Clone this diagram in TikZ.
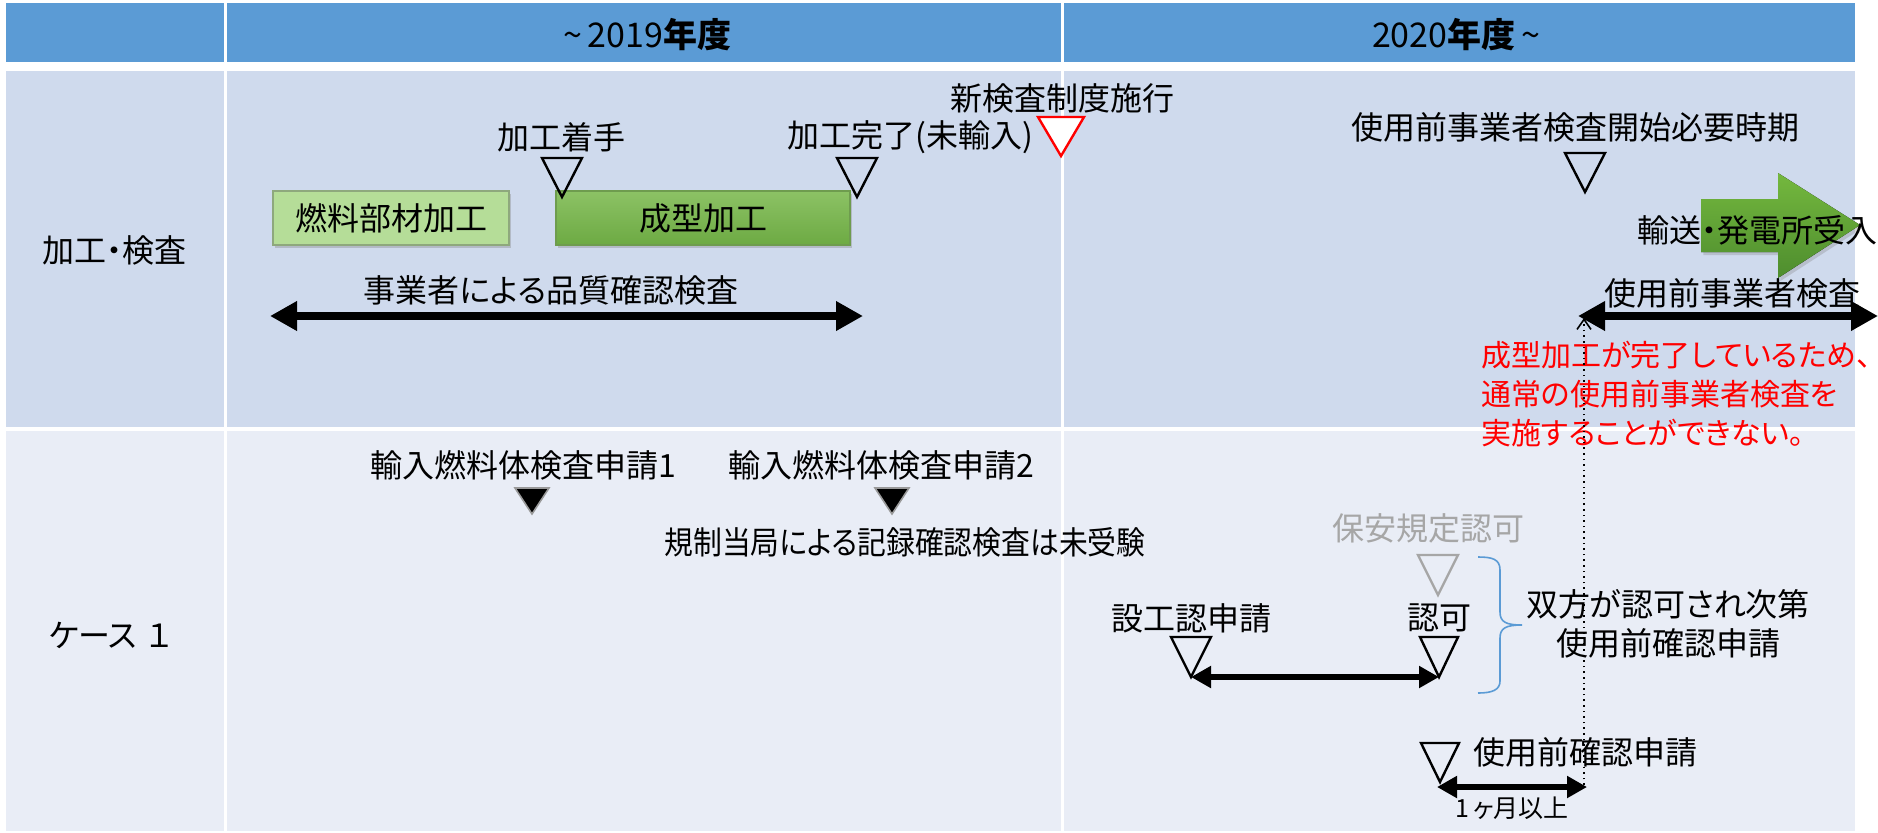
\documentclass[tikz,border=0pt]{standalone}
\usepackage{fontspec}
\usepackage{graphicx}
\newfontfamily\jp[RawFeature={+palt}]{Noto Sans CJK JP}
\usetikzlibrary{arrows.meta,shadows,calc}
\definecolor{hdr}{HTML}{5B9BD5}
\definecolor{rowa}{HTML}{CFDAED}
\definecolor{rowb}{HTML}{E9EDF6}
\definecolor{lgreen}{HTML}{B5DD98}
\definecolor{lgreenb}{HTML}{8EA87D}
\definecolor{dgreenT}{HTML}{8CC265}
\definecolor{dgreenB}{HTML}{6DAA43}
\definecolor{dgreenb}{HTML}{6E9C4E}
\definecolor{arrT}{HTML}{74B83E}
\definecolor{arrB}{HTML}{4E8D2E}
\definecolor{grayt}{HTML}{A6A6A6}
\newcommand\marker[6]{\coordinate (#1) at (#2,#3);
  \draw[#6] ($(#1)+(-#4,-#5)$) -- (#1) -- ($(#1)+(#4,-#5)$) -- cycle;}
\begin{document}
\begin{tikzpicture}[x=0.5pt,y=-0.5pt,
  lbl/.style={font=\jp\fontsize{16}{19.5}\selectfont, inner sep=0pt},
  hdrtxt/.style={font=\jp\fontsize{17}{20}\selectfont, inner sep=0pt},
  tickmark/.style={draw=black, line width=1.2pt, line join=miter},
  filledmark/.style={draw=black!40, fill=black, line width=0.8pt},
  bigarr/.style={line width=4pt, {Triangle[length=13.5pt,width=14pt]}-{Triangle[length=13.5pt,width=14pt]}},
  midarr/.style={line width=3pt, {Triangle[length=10pt,width=10.5pt]}-{Triangle[length=10pt,width=10.5pt]}},
  boxA/.style={lbl, fill=lgreen, draw=lgreenb, line width=0.8pt, minimum width=118pt, minimum height=27pt,
    drop shadow={opacity=0.35, shadow xshift=1.2pt, shadow yshift=-1.5pt}},
  boxB/.style={lbl, top color=dgreenT, bottom color=dgreenB, draw=dgreenb, line width=0.8pt, minimum width=147pt, minimum height=27pt,
    drop shadow={opacity=0.35, shadow xshift=1.2pt, shadow yshift=-1.5pt}}
]
\useasboundingbox (0,0) rectangle (1878,832);
\fill[white] (0,0) rectangle (1878,832);
% table
\fill[hdr] (6,3) rectangle (1855,62);
\fill[rowa] (6,71) rectangle (1855,427);
\fill[rowb] (6,431) rectangle (1855,831);
\draw[white, line width=1.5pt] (225.5,3) -- (225.5,831);
\draw[white, line width=1.5pt] (1062.5,3) -- (1062.5,831);
% headers
\node[hdrtxt] (h1) at (647,35) {\textasciitilde\,2019\textbf{年度}};
\node[hdrtxt] (h2) at (1456,35) {2020\textbf{年度}\,\textasciitilde};
\node[lbl] (r1) at (114,250) {加工・検査};
\node[lbl] (r2) at (110,635) {ケース\hspace{5pt}１};
% row 1
\node[boxA] (b1) at (391,218) {燃料部材加工};
\node[boxB] (b2) at (703,218) {成型加工};
\node[lbl] (t1) at (561,137) {加工着手};
\marker{m1}{562}{197}{20}{39}{tickmark}
\node[lbl] (t2) at (910,137) {加工完了(未輸入)};
\marker{m2}{857}{197}{20}{39}{tickmark}
\node[lbl] (t3) at (1062,98) {新検査制度施行};
\marker{m3}{1061}{156}{23}{39}{tickmark, draw=red, fill=white}
\node[lbl] (t4) at (1575,127) {使用前事業者検査開始必要時期};
\marker{m4}{1585}{192}{20}{39}{tickmark}
% green arrow
\fill[top color=arrT, bottom color=arrB, drop shadow={opacity=0.3, shadow xshift=1.2pt, shadow yshift=-1.5pt}]
  (1701,199) -- (1778,199) -- (1778,173) -- (1860,225) -- (1778,278) -- (1778,252) -- (1701,252) -- cycle;
\node[lbl] (t5) at (1757,230) {輸送・発電所受入};
% QA arrow
\node[lbl] (t6) at (551,290) {事業者による品質確認検査};
\coordinate (qaL) at (270,316);
\coordinate (qaR) at (863,316);
\draw[bigarr] (qaL) -- (qaR);
\node[lbl] (t7) at (1732,293) {使用前事業者検査};
\coordinate (prL) at (1578,316);
\coordinate (prR) at (1878,316);
\draw[bigarr] (prL) -- (prR);
\node[lbl, font=\jp\fontsize{15}{19.5}\selectfont, text=red, align=left, anchor=west] (t8) at (1481,394) {成型加工が完了しているため、\\通常の使用前事業者検査を\\実施することができない。};
% row 2
\node[lbl] (u1) at (523,465) {輸入燃料体検査申請1};
\marker{n1}{532}{514}{17}{26}{filledmark}
\node[lbl] (u2) at (881,465) {輸入燃料体検査申請2};
\marker{n2}{892}{514}{17}{26}{filledmark}
\node[lbl] (u3) at (905,542) {\scalebox{0.9}[1]{規制当局による記録確認検査は未受験}};
\node[lbl, text=grayt] (u4) at (1428,528) {保安規定認可};
\marker{n3}{1438}{595}{20}{40}{tickmark, draw=grayt}
\node[lbl] (u5) at (1191,618) {設工認申請};
\marker{n4}{1191}{677}{20}{40}{tickmark}
\node[lbl] (u6) at (1439,618) {認可};
\marker{n5}{1439}{677}{19}{40}{tickmark}
\draw[midarr] (n4) -- (n5);
\draw[hdr, line width=0.8pt] (1478,557) .. controls (1492,557) and (1500,559) .. (1500,570) -- (1500,612)
  .. controls (1500,622) and (1506,625) .. (1522,625)
  .. controls (1506,625) and (1500,628) .. (1500,638) -- (1500,681)
  .. controls (1500,690) and (1492,693) .. (1478,693);
\node[lbl, align=center] (u7) at (1668,624) {双方が認可され次第\\使用前確認申請};
\node[lbl] (u8) at (1585,752) {使用前確認申請};
\marker{n6}{1440}{782}{19}{39}{tickmark}
\coordinate (mR) at (1587,787);
\draw[midarr] (n6) ++(-3,5) coordinate (mL) -- (mR);
\node[lbl, font=\jp\fontsize{12.5}{14}\selectfont] (u9) at (1512,808) {1\,ヶ月以上};
\coordinate (dB) at (1584,785);
\coordinate (dT) at (1584,318);
\draw[dotted, line width=0.8pt, -{Straight Barb[length=5pt,width=7pt]}] (dB) -- (dT);
\end{tikzpicture}
\end{document}
